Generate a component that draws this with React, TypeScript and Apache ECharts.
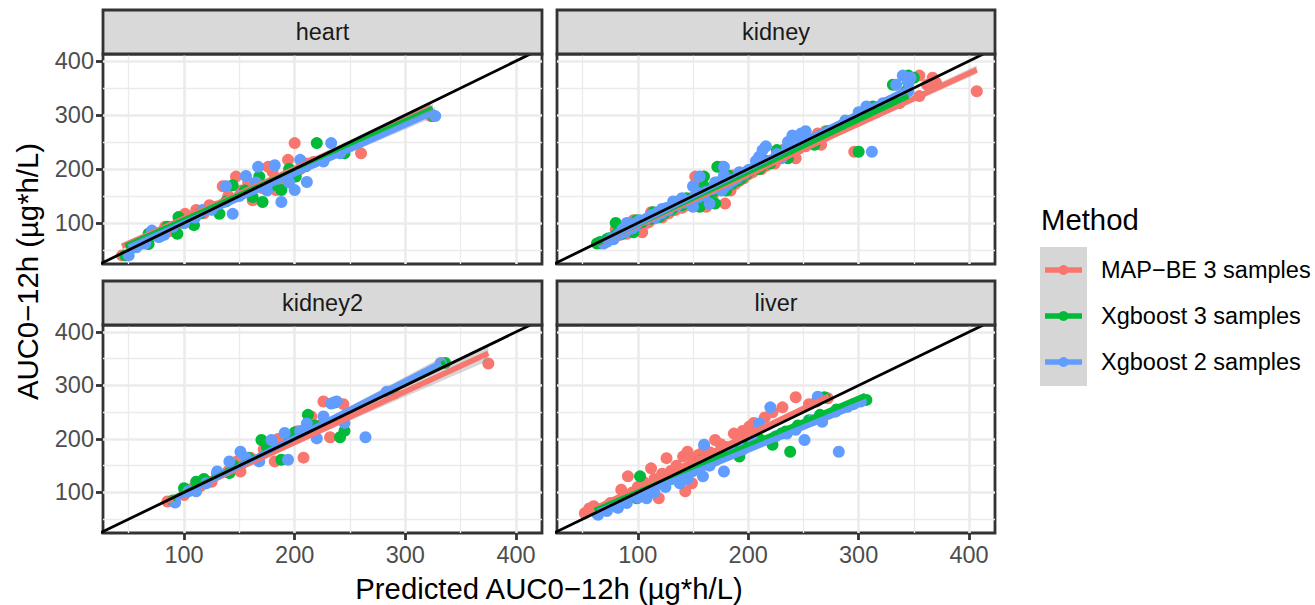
import React, { useEffect, useRef } from "react";
import * as echarts from "echarts";

const FONT = '"Liberation Sans", Arial, Helvetica, sans-serif';

const METHODS = ["MAP\u2212BE 3 samples", "Xgboost 3 samples", "Xgboost 2 samples"];
const COLORS = ["#F8766D", "#00BA38", "#619CFF"];
const PANELS = ["heart", "kidney", "kidney2", "liver"];
const X_RANGE = [26.8, 423.5];
const Y_RANGE = [24.1, 413];
const MAJOR_TICKS = [100, 200, 300, 400];
const MINOR_TICKS = [50, 150, 250, 350];
const IDENTITY = [[0, 0], [500, 500]];
const X_TITLE = "Predicted AUC0\u221212h (\u00b5g*h/L)";
const Y_TITLE = "AUC0\u221212h (\u00b5g*h/L)";
const LEGEND_TITLE = "Method";

// ---- heart ----
const H_MAPBE = [[44,40],[53,55],[60,62],[68,70],[75,78],[83,93],[88,85],[95,100],[101,117],[105,110],[111,124],[118,118],[123,133],[129,130],[135,168],[140,150],[147,186],[152,160],[158,175],[162,142],[170,165],[176,204],[180,195],[183,161],[188,180],[194,217],[200,248],[205,200],[212,210],[217,213],[260,229],[323,298]];
const H_XGB3 = [[47,40],[55,55],[62,62],[68,61],[68,80],[78,75],[85,93],[94,80],[95,111],[100,100],[109,96],[115,118],[125,125],[132,117],[138,140],[144,170],[155,160],[162,148],[168,186],[171,139],[180,170],[188,161],[195,200],[201,186],[210,205],[220,248],[245,229],[325,298]];
const H_XGB2 = [[50,40],[57,55],[65,62],[71,86],[77,74],[82,78],[90,93],[100,100],[110,110],[117,124],[125,125],[138,168],[144,117],[150,150],[156,187],[165,175],[167,204],[175,160],[182,207],[188,139],[195,175],[200,161],[205,217],[211,176],[226,214],[233,248],[241,229],[327,298]];
const HEART_FIT = [[44,57,323,314],[47,57,325,312],[50,55,327,306]];
const HEART_BAND = [
  [[44,51,63],[150,152,157],[323,303,325]],
  [[47,51,63],[150,149,154],[325,303,321]],
  [[50,49,61],[150,143,148],[327,297,315]],
];

// ---- kidney ----
const K_MAPBE = [[66,62],[70,65],[74,70],[76,72],[84,78],[90,80],[104,83],[92,86],[80,88],[96,90],[100,95],[104,98],[108,100],[110,102],[96,105],[114,108],[122,110],[118,112],[122,115],[128,118],[112,120],[134,124],[126,126],[140,128],[162,130],[145,133],[179,136],[150,138],[138,140],[156,142],[148,146],[165,148],[158,150],[168,152],[160,155],[165,158],[184,160],[172,163],[176,166],[158,168],[180,170],[188,172],[178,175],[192,178],[184,180],[196,183],[152,186],[186,188],[200,190],[204,194],[206,198],[212,200],[176,204],[216,206],[224,210],[220,215],[243,220],[232,223],[236,228],[296,232],[231,235],[246,238],[252,242],[266,245],[255,250],[262,255],[270,262],[263,266],[270,270],[300,290],[316,305],[320,316],[337,322],[355,335],[407,344],[362,356],[370,360],[367,369],[355,373]];
const K_XGB3 = [[63,62],[66,65],[72,70],[74,72],[80,78],[86,80],[96,83],[88,86],[84,88],[92,90],[96,95],[100,98],[80,100],[104,102],[99,105],[112,108],[118,110],[120,112],[118,115],[124,118],[114,120],[130,124],[128,126],[132,128],[156,130],[140,133],[170,136],[146,138],[136,140],[152,142],[144,146],[160,148],[155,150],[164,152],[162,155],[168,158],[180,160],[170,163],[174,166],[160,168],[178,170],[185,172],[172,175],[190,178],[182,180],[194,183],[160,186],[182,188],[198,190],[200,194],[203,198],[210,200],[172,204],[213,206],[220,210],[216,215],[236,220],[228,223],[233,228],[300,232],[226,235],[242,238],[248,242],[260,245],[252,250],[258,255],[266,262],[270,266],[272,270],[298,290],[310,305],[313,316],[330,322],[338,335],[343,344],[331,356],[345,360],[350,369],[345,373]];
const K_XGB2 = [[69,62],[72,65],[78,70],[76,72],[82,78],[84,80],[88,83],[90,86],[86,88],[95,90],[98,95],[94,98],[90,100],[100,102],[102,105],[108,108],[116,110],[116,112],[112,115],[122,118],[118,120],[128,124],[122,126],[126,128],[150,130],[136,133],[165,136],[142,138],[132,140],[148,142],[140,146],[155,148],[152,150],[160,152],[156,155],[162,158],[176,160],[168,163],[178,166],[150,168],[172,170],[182,172],[170,175],[186,178],[180,180],[190,183],[156,186],[178,188],[196,190],[192,194],[200,198],[204,200],[178,204],[208,206],[212,210],[207,215],[230,220],[210,223],[226,228],[312,232],[213,235],[235,238],[216,242],[250,245],[236,250],[245,255],[240,262],[248,266],[252,270],[288,290],[300,305],[307,316],[322,322],[340,335],[345,344],[334,356],[345,360],[347,369],[340,373]];
const KIDNEY_FIT = [[63,61,407,384],[63,62,345,335],[68,66,345,349]];
const KIDNEY_BAND = [
  [[63,57,65],[200,188,191.5],[407,376,392]],
  [[63,58,66],[200,193,196],[345,329,341]],
  [[68,62,70],[200,199,202.5],[345,343,355]],
];

// ---- kidney2 ----
const K2_MAPBE = [[85,83],[100,95],[108,108],[115,112],[125,120],[140,140],[151,139],[148,158],[160,165],[172,180],[182,158],[185,200],[192,205],[202,214],[208,165],[215,242],[222,225],[226,270],[232,203],[244,265],[290,285],[375,341]];
const K2_XGB3 = [[90,85],[100,108],[111,120],[118,125],[130,135],[141,136],[145,150],[158,165],[170,198],[175,185],[188,161],[195,205],[200,212],[212,245],[218,225],[236,268],[241,203],[245,215],[285,288],[336,342]];
const K2_XGB2 = [[92,81],[104,102],[111,102],[120,117],[130,139],[141,158],[151,176],[156,165],[168,158],[179,198],[191,211],[194,161],[205,215],[211,229],[220,201],[226,242],[233,266],[238,270],[245,230],[264,203],[283,288],[332,342]];
const KIDNEY2_FIT = [[85,84,375,360],[90,88,336,343],[92,88,332,342]];
const KIDNEY2_BAND = [
  [[85,78,90],[180,172,177],[375,346,374]],
  [[90,82,94],[180,179,184],[336,333,353]],
  [[92,82,94],[180,179,183.5],[332,332,352]],
];

// ---- liver ----
const L_MAPBE = [[52,61],[56,70],[60,74],[66,68],[75,80],[85,105],[88,90],[91,130],[95,100],[100,110],[105,120],[112,145],[115,125],[119,89],[122,135],[126,164],[130,140],[135,150],[141,167],[143,102],[145,176],[149,117],[150,160],[155,170],[160,180],[165,175],[170,198],[175,190],[180,185],[187,210],[195,215],[201,223],[205,230],[215,240],[222,250],[231,259],[243,278],[255,265],[262,270],[272,276]];
const L_XGB3 = [[63,61],[70,68],[80,75],[99,89],[102,130],[105,100],[112,110],[120,120],[130,125],[138,135],[145,140],[150,150],[158,160],[165,165],[172,170],[180,175],[190,180],[192,167],[200,195],[210,200],[222,189],[230,210],[234,214],[238,176],[245,225],[255,235],[265,245],[269,278],[280,255],[295,265],[307,273]];
const L_XGB2 = [[64,58],[72,65],[82,71],[90,80],[100,90],[108,89],[115,100],[125,110],[138,117],[145,125],[150,140],[159,130],[160,189],[165,150],[170,160],[178,139],[185,175],[195,180],[205,195],[210,229],[220,259],[225,205],[235,210],[243,217],[251,198],[258,235],[263,279],[267,232],[279,251],[282,176],[290,260],[302,270]];
const LIVER_FIT = [[53,62,273,280],[61,66,306,281],[64,64,302,266]];
const LIVER_BAND = [
  [[53,57,67],[160,166,170],[273,274,286]],
  [[61,61,71],[180,168.5,172.5],[306,275,287]],
  [[64,59,70],[180,160,164],[302,260,272]],
];

const POINTS = [
  [H_MAPBE, H_XGB3, H_XGB2],
  [K_MAPBE, K_XGB3, K_XGB2],
  [K2_MAPBE, K2_XGB3, K2_XGB2],
  [L_MAPBE, L_XGB3, L_XGB2],
];
const FITS = [HEART_FIT, KIDNEY_FIT, KIDNEY2_FIT, LIVER_FIT];
const BANDS = [HEART_BAND, KIDNEY_BAND, KIDNEY2_BAND, LIVER_BAND];

// ---- layout (pixels) ----
const GRIDS = [
  { left: 103, top: 54, width: 439, height: 210 },
  { left: 557, top: 54, width: 438, height: 210 },
  { left: 103, top: 325, width: 439, height: 208 },
  { left: 557, top: 325, width: 438, height: 208 },
];
const STRIP_H = 44;
const LW = 2.8;

function buildOption() {
  const series: any[] = [];
  GRIDS.forEach((g, p) => {
    const gridData: any[] = [];
    MINOR_TICKS.forEach((v) => {
      gridData.push({ xAxis: v, lineStyle: { width: 1.3 } });
      gridData.push({ yAxis: v, lineStyle: { width: 1.3 } });
    });
    MAJOR_TICKS.forEach((v) => {
      gridData.push({ xAxis: v, lineStyle: { width: 2.6 } });
      gridData.push({ yAxis: v, lineStyle: { width: 2.6 } });
    });
    series.push({
      type: "line",
      xAxisIndex: p,
      yAxisIndex: p,
      data: [],
      silent: true,
      z: 1,
      markLine: {
        z: 1,
        silent: true,
        symbol: ["none", "none"],
        label: { show: false },
        emphasis: { disabled: true },
        lineStyle: { color: "#EBEBEB", type: "solid" },
        data: gridData,
      },
    });
    METHODS.forEach((name, m) => {
      series.push({
        type: "scatter",
        name,
        xAxisIndex: p,
        yAxisIndex: p,
        data: POINTS[p][m],
        symbol: "circle",
        symbolSize: 12,
        itemStyle: { color: COLORS[m], opacity: 1 },
        silent: true,
        z: 2 + m,
      });
    });
    METHODS.forEach((name, m) => {
      const band = BANDS[p][m];
      series.push({
        type: "custom",
        xAxisIndex: p,
        yAxisIndex: p,
        data: [[band[0][0], band[0][1]]],
        silent: true,
        clip: true,
        z: 5 + m * 2,
        renderItem: (params: any, api: any) => {
          const upper = band.map((b) => api.coord([b[0], b[2]]));
          const lower = band.slice().reverse().map((b) => api.coord([b[0], b[1]]));
          return {
            type: "polygon",
            shape: { points: upper.concat(lower) },
            style: { fill: "rgba(153,153,153,0.4)" },
          };
        },
      });
      const f = FITS[p][m];
      series.push({
        type: "line",
        xAxisIndex: p,
        yAxisIndex: p,
        data: [[f[0], f[1]], [f[2], f[3]]],
        showSymbol: false,
        symbol: "none",
        silent: true,
        lineStyle: { color: COLORS[m], width: 5.5, cap: "butt" },
        z: 6 + m * 2,
      });
    });
    series.push({
      type: "line",
      xAxisIndex: p,
      yAxisIndex: p,
      data: IDENTITY,
      showSymbol: false,
      symbol: "none",
      silent: true,
      clip: true,
      lineStyle: { color: "#000000", width: 2.8 },
      z: 12,
    });
  });

  const graphic: any[] = [];
  GRIDS.forEach((g, i) => {
    graphic.push({
      type: "rect",
      z: 100,
      shape: { x: g.left, y: g.top - STRIP_H, width: g.width, height: STRIP_H },
      style: { fill: "#D9D9D9", stroke: "#333333", lineWidth: LW },
    });
    graphic.push({
      type: "text",
      z: 101,
      x: g.left + g.width / 2,
      y: g.top - STRIP_H / 2,
      style: {
        text: PANELS[i],
        fontSize: 23.5,
        fontFamily: FONT,
        fill: "#1A1A1A",
        align: "center",
        verticalAlign: "middle",
        textAlign: "center",
        textVerticalAlign: "middle",
      },
    });
  });
  graphic.push({
    type: "text",
    x: (GRIDS[0].left + GRIDS[1].left + GRIDS[1].width) / 2,
    y: 588,
    style: {
      text: X_TITLE, fontSize: 29.3, fontFamily: FONT, fill: "#000000",
      align: "center", verticalAlign: "middle", textAlign: "center", textVerticalAlign: "middle",
    },
  });
  graphic.push({
    type: "text",
    x: 27,
    y: (GRIDS[0].top - STRIP_H + GRIDS[2].top + GRIDS[2].height) / 2,
    rotation: Math.PI / 2,
    style: {
      text: Y_TITLE, fontSize: 29.3, fontFamily: FONT, fill: "#000000",
      align: "center", verticalAlign: "middle", textAlign: "center", textVerticalAlign: "middle",
    },
  });
  // legend
  graphic.push({
    type: "text",
    x: 1041,
    y: 219,
    style: {
      text: LEGEND_TITLE, fontSize: 29.3, fontFamily: FONT, fill: "#000000",
      align: "left", verticalAlign: "middle", textAlign: "left", textVerticalAlign: "middle",
    },
  });
  graphic.push({
    type: "rect",
    shape: { x: 1040, y: 247, width: 47, height: 139 },
    style: { fill: "#D6D6D6" },
  });
  METHODS.forEach((name, m) => {
    const cy = 270 + m * 46;
    graphic.push({
      type: "line",
      shape: { x1: 1045, y1: cy, x2: 1082, y2: cy },
      style: { stroke: COLORS[m], lineWidth: 5.5 },
    });
    graphic.push({
      type: "circle",
      shape: { cx: 1063.5, cy, r: 5 },
      style: { fill: COLORS[m] },
    });
    graphic.push({
      type: "text",
      x: 1101,
      y: cy,
      style: {
        text: name, fontSize: 23.5, fontFamily: FONT, fill: "#000000",
        align: "left", verticalAlign: "middle", textAlign: "left", textVerticalAlign: "middle",
      },
    });
  });

  return {
    animation: false,
    backgroundColor: "#FFFFFF",
    grid: GRIDS.map((g) => ({
      ...g,
      show: true,
      backgroundColor: "#FFFFFF",
      borderColor: "#333333",
      borderWidth: LW,
      containLabel: false,
    })),
    xAxis: GRIDS.map((g, i) => ({
      type: "value",
      gridIndex: i,
      min: X_RANGE[0],
      max: X_RANGE[1],
      axisLine: { show: false },
      splitLine: { show: false },
      axisTick: {
        show: i >= 2,
        customValues: MAJOR_TICKS,
        length: 7,
        lineStyle: { color: "#333333", width: LW },
      },
      axisLabel: {
        show: i >= 2,
        customValues: MAJOR_TICKS,
        color: "#4D4D4D",
        fontSize: 23.5,
        fontFamily: FONT,
        margin: 10,
      },
    })),
    yAxis: GRIDS.map((g, i) => ({
      type: "value",
      gridIndex: i,
      min: Y_RANGE[0],
      max: Y_RANGE[1],
      axisLine: { show: false },
      splitLine: { show: false },
      axisTick: {
        show: i % 2 === 0,
        customValues: MAJOR_TICKS,
        length: 7,
        lineStyle: { color: "#333333", width: LW },
      },
      axisLabel: {
        show: i % 2 === 0,
        customValues: MAJOR_TICKS,
        color: "#4D4D4D",
        fontSize: 23.5,
        fontFamily: FONT,
        margin: 9,
      },
    })),
    series,
    graphic,
  };
}

export default function App() {
  const ref = useRef<HTMLDivElement>(null);
  useEffect(() => {
    if (!ref.current) return;
    const chart = echarts.init(ref.current, undefined, { renderer: "svg" });
    chart.setOption(buildOption() as any);
    return () => chart.dispose();
  }, []);
  return (
    <div
      ref={ref}
      style={{ position: "absolute", left: 0, top: 0, width: 1315, height: 605 }}
    />
  );
}
